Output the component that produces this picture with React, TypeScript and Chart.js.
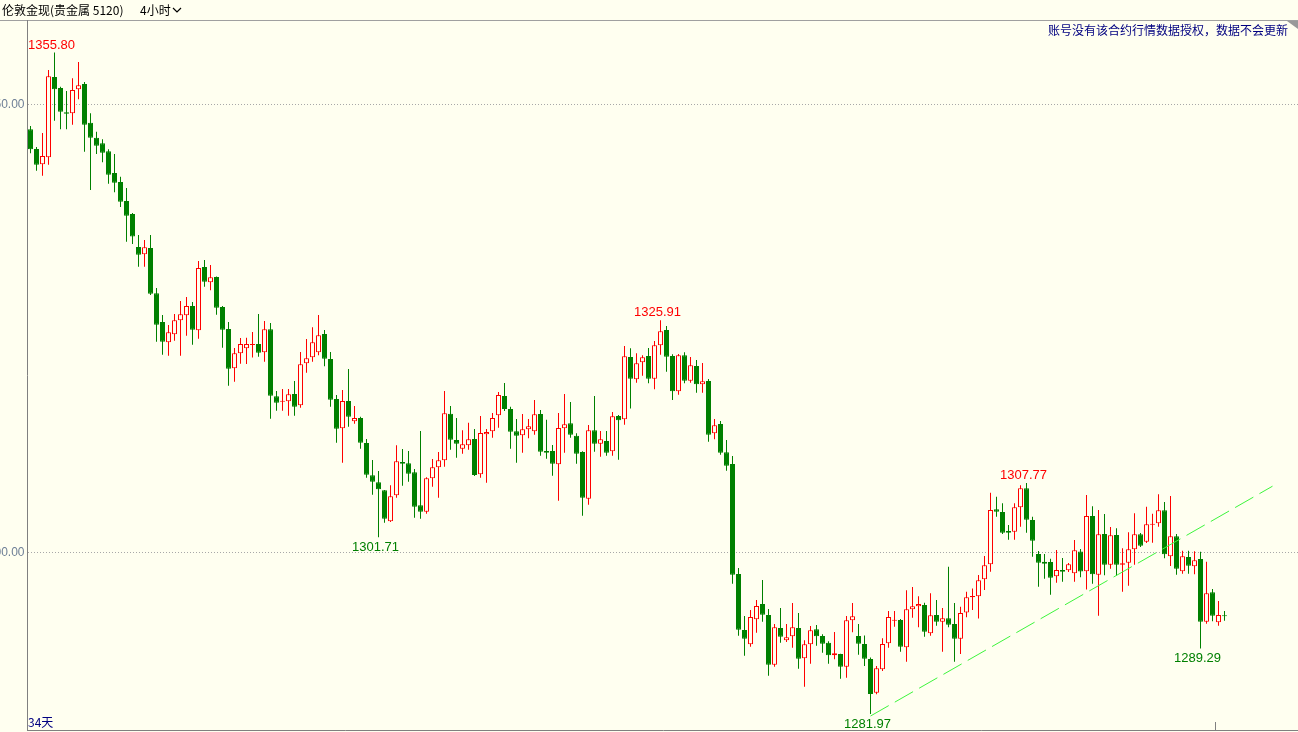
import React, { useEffect, useRef } from 'react';
import { Chart, registerables } from 'chart.js';

Chart.register(...registerables);

const BG = '#FFFFF0';
const UP = '#FF0000';
const DOWN = '#008000';

// 212 time slots (200 candles + empty room on the right)
const categories: string[] = Array.from({ length: 212 }, (_, i) => String(i + 1));

const open = [
  1347.23, 1345.03, 1343.33, 1344.11, 1353.07, 1351.84, 1349.13, 1349.02, 1351.70, 1352.29,
  1347.97, 1346.30, 1345.67, 1344.78, 1342.36, 1341.35, 1339.23, 1337.78, 1334.10, 1333.28,
  1333.99, 1328.93, 1325.73, 1323.46, 1324.35, 1325.92, 1326.47, 1327.51, 1324.80, 1331.86,
  1330.16, 1330.75, 1327.40, 1324.94, 1320.56, 1322.23, 1322.79, 1323.16, 1323.27, 1322.34,
  1324.91, 1317.43, 1316.83, 1316.88, 1317.69, 1316.43, 1321.12, 1321.79, 1322.34, 1324.39,
  1321.60, 1317.13, 1313.86, 1316.91, 1314.64, 1315.01, 1312.22, 1308.62, 1307.83, 1306.94,
  1303.48, 1306.38, 1310.10, 1309.96, 1308.95, 1305.27, 1304.55, 1308.28, 1309.51, 1310.29,
  1315.49, 1312.56, 1311.59, 1311.96, 1312.67, 1308.73, 1313.19, 1313.53, 1315.31, 1317.47,
  1316.02, 1313.53, 1313.08, 1313.75, 1313.53, 1315.46, 1311.33, 1311.33, 1309.84, 1313.86,
  1314.42, 1313.04, 1311.22, 1306.00, 1313.64, 1312.14, 1312.44, 1311.29, 1315.23, 1314.87,
  1321.82, 1319.33, 1321.23, 1321.93, 1319.40, 1323.13, 1324.83, 1321.93, 1317.99, 1322.01,
  1319.17, 1320.82, 1318.77, 1319.14, 1313.30, 1314.34, 1311.18, 1309.88, 1297.60, 1291.35,
  1289.75, 1292.54, 1294.25, 1293.02, 1287.48, 1291.57, 1290.20, 1290.65, 1291.57, 1288.19,
  1289.75, 1291.43, 1290.68, 1289.93, 1288.53, 1288.67, 1287.25, 1292.43, 1290.68, 1289.79,
  1288.11, 1284.35, 1286.96, 1289.87, 1292.39, 1292.47, 1289.42, 1293.66, 1294.00, 1294.14,
  1290.98, 1293.02, 1292.28, 1292.66, 1292.02, 1290.38, 1293.30, 1295.00, 1295.11, 1297.01,
  1298.68, 1304.82, 1304.52, 1302.40, 1302.32, 1305.04, 1307.17, 1303.63, 1299.83, 1298.97,
  1298.94, 1297.34, 1298.05, 1298.01, 1297.68, 1300.11, 1297.90, 1304.07, 1297.52, 1302.06,
  1298.64, 1301.95, 1298.64, 1298.86, 1300.36, 1302.03, 1301.21, 1303.10, 1303.26, 1304.71,
  1299.58, 1301.81, 1297.90, 1299.50, 1298.46, 1299.27, 1292.28, 1295.56, 1292.21, 1292.99,
];

const high = [
  1347.60, 1345.26, 1346.82, 1353.85, 1355.80, 1351.99, 1351.51, 1352.93, 1354.74, 1352.51,
  1349.02, 1346.97, 1346.12, 1345.00, 1344.48, 1341.94, 1340.68, 1337.89, 1335.44, 1334.88,
  1335.44, 1329.52, 1326.51, 1325.39, 1326.62, 1328.07, 1328.52, 1327.96, 1332.53, 1332.65,
  1332.09, 1330.80, 1327.51, 1325.73, 1322.82, 1323.94, 1323.97, 1324.61, 1326.62, 1325.84,
  1325.61, 1318.02, 1318.25, 1318.25, 1319.14, 1322.38, 1323.83, 1325.13, 1326.51, 1324.83,
  1322.38, 1317.58, 1318.14, 1320.48, 1316.35, 1315.16, 1312.67, 1310.32, 1309.10, 1306.98,
  1307.50, 1311.96, 1311.55, 1311.33, 1309.32, 1313.56, 1308.39, 1310.44, 1311.22, 1318.02,
  1316.35, 1315.01, 1313.64, 1314.49, 1313.78, 1315.23, 1313.78, 1315.57, 1317.91, 1318.92,
  1316.27, 1314.90, 1315.46, 1314.90, 1317.02, 1315.90, 1314.82, 1312.00, 1315.57, 1317.69,
  1316.80, 1313.30, 1311.30, 1314.23, 1317.47, 1313.56, 1313.56, 1315.68, 1315.35, 1323.05,
  1322.79, 1322.23, 1322.01, 1322.82, 1323.61, 1325.91, 1325.28, 1322.12, 1322.15, 1322.34,
  1321.82, 1321.48, 1321.15, 1319.36, 1314.90, 1314.68, 1312.56, 1310.77, 1298.27, 1292.91,
  1293.58, 1294.70, 1296.93, 1293.69, 1292.02, 1293.81, 1292.02, 1294.36, 1293.25, 1290.20,
  1291.80, 1291.91, 1290.87, 1290.09, 1291.13, 1288.70, 1292.91, 1294.36, 1292.02, 1290.74,
  1288.28, 1287.33, 1290.42, 1293.47, 1293.47, 1292.58, 1295.78, 1296.15, 1295.11, 1294.40,
  1295.45, 1294.70, 1293.81, 1298.42, 1294.36, 1293.95, 1295.62, 1295.98, 1297.49, 1299.61,
  1306.67, 1306.23, 1305.49, 1303.07, 1305.49, 1307.50, 1307.77, 1304.00, 1300.17, 1299.83,
  1299.31, 1300.28, 1299.39, 1298.83, 1301.40, 1300.39, 1306.42, 1305.17, 1304.74, 1304.30,
  1302.85, 1302.70, 1300.47, 1302.25, 1304.38, 1302.18, 1305.11, 1304.33, 1306.50, 1305.64,
  1306.31, 1302.06, 1300.20, 1300.20, 1300.13, 1300.09, 1298.97, 1295.93, 1294.59, 1293.47,
];

const low = [
  1344.55, 1342.61, 1342.05, 1343.28, 1348.19, 1347.23, 1347.23, 1347.75, 1350.58, 1344.73,
  1340.46, 1344.48, 1343.55, 1341.16, 1340.20, 1338.56, 1334.69, 1334.43, 1331.90, 1331.90,
  1328.74, 1323.53, 1322.08, 1321.96, 1323.64, 1321.96, 1324.20, 1323.19, 1323.86, 1329.67,
  1329.26, 1326.54, 1322.86, 1318.62, 1319.06, 1321.07, 1321.04, 1321.76, 1321.85, 1321.30,
  1314.93, 1315.83, 1315.83, 1315.27, 1315.27, 1316.16, 1320.07, 1321.30, 1322.01, 1320.78,
  1316.27, 1312.25, 1310.02, 1314.04, 1314.38, 1311.59, 1308.35, 1306.45, 1301.71, 1303.33,
  1303.40, 1306.12, 1307.46, 1307.90, 1303.88, 1303.77, 1304.33, 1307.34, 1306.12, 1309.58,
  1311.47, 1310.58, 1311.03, 1311.47, 1308.54, 1308.35, 1307.79, 1312.81, 1313.93, 1315.79,
  1311.59, 1310.02, 1311.14, 1312.75, 1313.15, 1310.80, 1310.47, 1308.57, 1305.78, 1311.14,
  1312.81, 1309.91, 1304.11, 1305.34, 1311.25, 1310.69, 1310.80, 1310.80, 1310.36, 1314.26,
  1316.07, 1318.95, 1319.73, 1318.88, 1318.21, 1322.08, 1320.18, 1317.02, 1317.61, 1318.88,
  1318.95, 1317.84, 1317.84, 1312.37, 1312.63, 1310.92, 1309.13, 1296.52, 1290.71, 1288.48,
  1289.49, 1291.05, 1292.28, 1286.25, 1287.25, 1289.93, 1290.01, 1289.37, 1287.03, 1285.02,
  1287.59, 1289.60, 1288.82, 1287.59, 1288.08, 1285.91, 1286.03, 1291.09, 1288.59, 1287.33,
  1281.97, 1284.17, 1286.77, 1289.37, 1291.72, 1288.93, 1287.81, 1292.72, 1291.65, 1290.60,
  1290.71, 1291.83, 1288.93, 1291.65, 1287.81, 1288.67, 1292.77, 1293.58, 1292.63, 1295.81,
  1297.86, 1304.00, 1302.06, 1301.43, 1301.43, 1302.88, 1302.21, 1299.53, 1296.18, 1297.08,
  1295.29, 1296.63, 1296.74, 1297.82, 1296.74, 1297.23, 1295.87, 1296.52, 1292.95, 1297.46,
  1298.19, 1297.41, 1295.62, 1296.29, 1298.64, 1300.61, 1301.06, 1301.09, 1302.88, 1299.35,
  1298.49, 1297.52, 1297.63, 1297.63, 1297.57, 1289.29, 1292.05, 1292.32, 1291.83, 1292.39,
];

const close = [
  1345.00, 1343.28, 1344.25, 1353.15, 1351.70, 1349.20, 1348.97, 1351.62, 1352.14, 1347.75,
  1346.30, 1345.40, 1344.62, 1342.17, 1341.27, 1339.15, 1337.59, 1335.27, 1333.24, 1334.06,
  1328.88, 1325.42, 1323.53, 1324.58, 1325.92, 1326.59, 1327.51, 1324.87, 1331.75, 1330.22,
  1330.72, 1327.32, 1324.87, 1320.51, 1322.23, 1323.27, 1323.27, 1323.27, 1322.30, 1324.91,
  1317.50, 1316.72, 1316.94, 1317.66, 1316.27, 1321.00, 1321.67, 1323.46, 1324.24, 1321.63,
  1317.05, 1313.82, 1316.91, 1315.16, 1315.01, 1312.25, 1308.68, 1307.90, 1307.05, 1303.77,
  1306.27, 1310.18, 1309.91, 1308.79, 1305.11, 1304.55, 1308.28, 1309.51, 1310.29, 1315.54,
  1312.59, 1312.14, 1312.08, 1312.63, 1308.65, 1313.34, 1313.45, 1315.01, 1317.58, 1316.02,
  1313.48, 1313.04, 1313.75, 1314.09, 1315.42, 1311.25, 1311.14, 1309.91, 1313.90, 1314.31,
  1313.15, 1311.03, 1306.12, 1313.64, 1312.14, 1312.63, 1311.14, 1315.20, 1314.75, 1321.90,
  1319.40, 1321.12, 1321.79, 1319.40, 1323.13, 1324.69, 1321.85, 1317.99, 1322.01, 1319.17,
  1320.89, 1318.77, 1319.11, 1313.15, 1314.20, 1311.14, 1309.69, 1297.52, 1291.38, 1290.38,
  1292.80, 1294.03, 1293.06, 1287.48, 1291.65, 1290.60, 1290.54, 1291.65, 1288.15, 1289.75,
  1291.32, 1290.65, 1289.82, 1288.53, 1288.75, 1287.25, 1292.43, 1292.88, 1289.82, 1288.15,
  1284.21, 1287.08, 1289.79, 1292.80, 1292.47, 1289.49, 1293.66, 1294.00, 1294.25, 1291.16,
  1292.99, 1292.28, 1292.66, 1291.94, 1290.38, 1293.25, 1295.00, 1295.14, 1296.90, 1298.57,
  1304.74, 1304.55, 1302.21, 1302.21, 1305.04, 1307.17, 1303.66, 1301.32, 1298.86, 1298.75,
  1297.19, 1298.05, 1297.86, 1298.68, 1300.25, 1297.88, 1304.07, 1297.58, 1302.03, 1298.64,
  1301.92, 1298.64, 1298.79, 1300.36, 1302.03, 1300.76, 1303.15, 1303.21, 1304.71, 1299.80,
  1301.81, 1298.19, 1299.58, 1298.53, 1299.13, 1292.28, 1295.45, 1292.95, 1293.02, 1292.88,
];

const yTicks = [1300, 1350];
const yMin = 1280.19;
const yMax = 1359.32;

// marked extremes (candle index, which end)
const markIndex = [4, 58, 105, 140, 166, 195];
const markKind = ['high', 'low', 'high', 'low', 'high', 'low'];

// dashed trend line
const trendIndex = [140, 207];
const trendValue = [1281.75, 1307.4];

const titleText = '伦敦金现(贵金属 5120)';
const periodText = '4小时';
const noticeText = '账号没有该合约行情数据授权，数据不会更新';
const spanText = '34天';

export default function App() {
  const ref = useRef<HTMLCanvasElement | null>(null);

  useEffect(() => {
    if (!ref.current) return;
    const isUp = close.map((c, i) => c > open[i]);
    const wickData = high.map((h, i) => [low[i], h]);
    const bodyData = open.map((o, i) => [Math.min(o, close[i]), Math.max(o, close[i])]);
    const trendData = categories.map((_, i) => {
      const k = trendIndex.indexOf(i);
      return k >= 0 ? trendValue[k] : null;
    });

    const decor = {
      id: 'decor',
      beforeDraw(chart: any) {
        const ctx = chart.ctx;
        ctx.save();
        ctx.fillStyle = BG;
        ctx.fillRect(0, 0, chart.width, chart.height);
        ctx.restore();
      },
      afterDatasetsDraw(chart: any) {
        const ctx = chart.ctx;
        const xs = chart.scales.x;
        const ys = chart.scales.y;
        ctx.save();
        ctx.font = "13px 'Liberation Sans'";
        ctx.textAlign = 'center';
        ctx.textBaseline = 'alphabetic';
        markIndex.forEach((idx, k) => {
          const isHigh = markKind[k] === 'high';
          const val = isHigh ? high[idx] : low[idx];
          const x = xs.getPixelForValue(idx) - 3;
          const y = ys.getPixelForValue(val);
          ctx.fillStyle = isHigh ? UP : DOWN;
          ctx.fillText(val.toFixed(2), x, isHigh ? y - 4 : y + 13.5);
        });
        ctx.restore();
      },
      afterDraw(chart: any) {
        const ctx = chart.ctx;
        ctx.save();
        ctx.lineWidth = 1;
        ctx.strokeStyle = '#A0A0A0';
        ctx.beginPath();
        ctx.moveTo(0, 20.5);
        ctx.lineTo(1300, 20.5);
        ctx.stroke();
        ctx.strokeStyle = '#808080';
        ctx.beginPath();
        ctx.moveTo(27.5, 20);
        ctx.lineTo(27.5, 731);
        ctx.moveTo(27, 730.5);
        ctx.lineTo(1300, 730.5);
        ctx.moveTo(1215.5, 722);
        ctx.lineTo(1215.5, 730);
        ctx.stroke();

        // header
        ctx.fillStyle = '#000000';
        ctx.font = "12px 'Noto Sans CJK SC'";
        ctx.textAlign = 'left';
        ctx.textBaseline = 'middle';
        ctx.fillText(titleText, 2, 10);
        ctx.fillText(periodText, 140, 10);
        ctx.strokeStyle = '#000000';
        ctx.lineWidth = 1.2;
        ctx.beginPath();
        ctx.moveTo(173, 8);
        ctx.lineTo(177, 12);
        ctx.lineTo(181, 8);
        ctx.stroke();

        ctx.fillStyle = '#000080';
        ctx.textAlign = 'right';
        ctx.fillText(noticeText, 1288, 30);

        ctx.fillStyle = '#999999';
        ctx.beginPath();
        ctx.moveTo(1287, 21);
        ctx.lineTo(1298, 21);
        ctx.lineTo(1298, 29);
        ctx.closePath();
        ctx.fill();

        ctx.fillStyle = '#000080';
        ctx.textAlign = 'left';
        ctx.fillText(spanText, 28, 722);
        ctx.restore();
      },
    };

    const chart = new Chart(ref.current, {
      type: 'bar',
      data: {
        labels: categories,
        datasets: [
          {
            type: 'line',
            data: trendData,
            borderColor: '#3DF53D',
            borderWidth: 1,
            borderDash: [21, 7],
            pointRadius: 0,
            spanGaps: true,
            order: 0,
          } as any,
          {
            type: 'bar',
            data: bodyData,
            backgroundColor: isUp.map((u) => (u ? BG : DOWN)),
            borderColor: isUp.map((u) => (u ? UP : DOWN)),
            borderWidth: 1,
            borderSkipped: false,
            barThickness: 5,
            grouped: false,
            minBarLength: 1,
            inflateAmount: 0,
            order: 1,
          } as any,
          {
            type: 'bar',
            data: wickData,
            backgroundColor: isUp.map((u) => (u ? UP : DOWN)),
            borderWidth: 0,
            barThickness: 1,
            grouped: false,
            inflateAmount: 0,
            order: 2,
          } as any,
        ],
      },
      options: {
        animation: false,
        responsive: false,
        devicePixelRatio: 1,
        events: [],
        layout: { padding: { left: 0, right: 0.5, top: 21, bottom: 2 } },
        plugins: { legend: { display: false }, tooltip: { enabled: false } },
        scales: {
          x: { type: 'category', display: false, offset: true, grid: { display: false } },
          y: {
            type: 'linear',
            position: 'left',
            min: yMin,
            max: yMax,
            beginAtZero: false,
            afterBuildTicks: (s: any) => {
              s.ticks = yTicks.map((v) => ({ value: v }));
            },
            afterFit: (s: any) => {
              s.width = 27.5;
              s.paddingTop = 0;
              s.paddingBottom = 0;
            },
            grid: { color: '#A8A8A8', lineWidth: 1, drawTicks: false },
            border: { display: false, dash: [1, 2] },
            ticks: {
              padding: 3,
              color: '#6E7F96',
              autoSkip: false,
              font: { family: 'Liberation Sans', size: 12 },
              callback: (v: any) => Number(v).toFixed(2),
            },
          },
        },
      } as any,
      plugins: [decor],
    });
    return () => chart.destroy();
  }, []);

  return (
    <div style={{ position: 'fixed', left: 0, top: 0, width: 1298, height: 732, overflow: 'hidden', background: BG }}>
      <canvas ref={ref} width={1300} height={732} style={{ display: 'block', width: 1300, height: 732 }} />
    </div>
  );
}
